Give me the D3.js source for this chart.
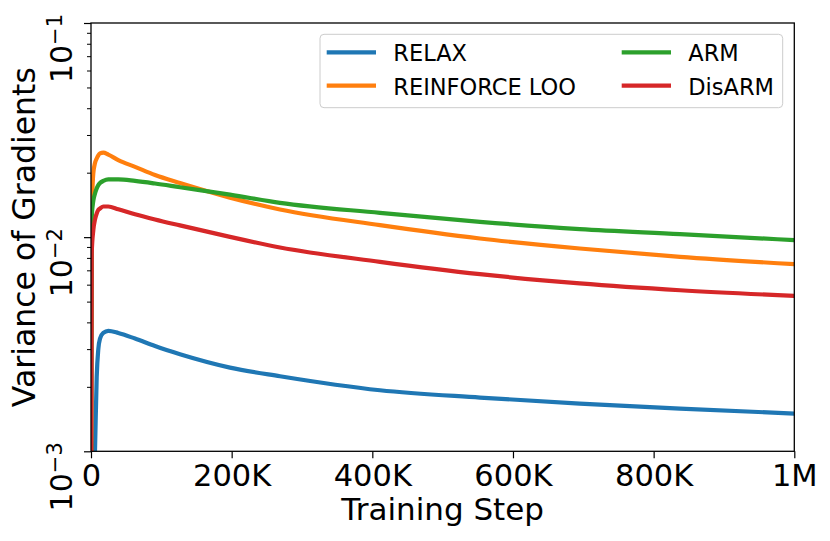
<!DOCTYPE html>
<html><head><meta charset="utf-8">
<script src="https://cdn.jsdelivr.net/npm/d3@7"></script>
<style>body{margin:0;background:#fff} text{font-family:"DejaVu Sans",sans-serif;fill:#000}</style>
</head><body><svg id="c" width="830" height="541"></svg>
<script>
// ---- data ----
const steps  = [0, 1000, 3300, 5700, 8100, 10400, 12800, 17500, 24600, 38800, 62600, 91000, 126500, 197600, 268700, 410900, 553000, 695000, 837500, 1000000];
const relax  = [0.0001, 0.0002, 0.0005, 0.00101, 0.00222, 0.0030, 0.00336, 0.00357, 0.00365, 0.00357, 0.00336, 0.0031, 0.00284, 0.00246, 0.002242, 0.001928, 0.001782, 0.00167, 0.001583, 0.0015];
const reinforceLoo = [0.0003, 0.0125, 0.0199, 0.0222, 0.0233, 0.0241, 0.0246, 0.0248, 0.0243, 0.0229, 0.0213, 0.0195, 0.0179, 0.0153, 0.01347, 0.01138, 0.00986, 0.00885, 0.00809, 0.00748];
const arm    = [0.0003, 0.0124, 0.0148, 0.0160, 0.0169, 0.0175, 0.0179, 0.0183, 0.0186, 0.0186, 0.0183, 0.0178, 0.0171, 0.0158, 0.01446, 0.01299, 0.01179, 0.0109, 0.01033, 0.00968];
const disarm = [0.0003, 0.0084, 0.0108, 0.0121, 0.0129, 0.0134, 0.0136, 0.0139, 0.0139, 0.0135, 0.0128, 0.0121, 0.01135, 0.01003, 0.00895, 0.00767, 0.00672, 0.00608, 0.00565, 0.00532];
const seriesNames = ["RELAX", "REINFORCE LOO", "ARM", "DisARM"];
const seriesColors = ["#1f77b4", "#ff7f0e", "#2ca02c", "#d62728"];
const xTicks = [0, 200000, 400000, 600000, 800000, 1000000];
const xTickLabels = ["0", "200K", "400K", "600K", "800K", "1M"];
const yTicks = [1e-3, 1e-2, 1e-1];
const yTickExps = ["−3", "−2", "−1"];
const xLabel = "Training Step";
const yLabel = "Variance of Gradients";

// ---- layout ----
const L = 91, R = 794.3, T = 23, B = 451.3;
const svg = d3.select("#c");
const x = d3.scaleLinear().domain([0, 1e6]).range([L, R]);
const y = d3.scaleLog().domain([1e-3, 1e-1]).range([B, T]);

svg.append("defs").append("clipPath").attr("id", "clip")
  .append("rect").attr("x", L).attr("y", T).attr("width", R - L).attr("height", B - T);

const seriesVals = [relax, reinforceLoo, arm, disarm];
const line = d3.line().x((d, i) => x(steps[i])).y(d => y(d)).curve(d3.curveMonotoneX);
const gl = svg.append("g").attr("clip-path", "url(#clip)");
seriesVals.forEach((vals, k) => {
  gl.append("path").datum(vals).attr("d", line)
    .attr("fill", "none").attr("stroke", seriesColors[k])
    .attr("stroke-width", 4.2).attr("stroke-linejoin", "round").attr("stroke-linecap", "butt");
});

// axes
const xAxis = d3.axisBottom(x).tickValues(xTicks).tickFormat((d, i) => xTickLabels[i]).tickSize(7).tickPadding(0);
const gx = svg.append("g").attr("transform", `translate(0,${B})`).call(xAxis);
gx.select(".domain").remove();
gx.selectAll(".tick line").attr("stroke", "#000").attr("stroke-width", 1.2);
gx.selectAll(".tick text").attr("font-size", "30.5px").attr("y", 35.2).attr("dy", 0)
  .attr("font-family", "DejaVu Sans").attr("fill", "#000");

const minor = [];
[1e-3, 1e-2].forEach(b => { for (let m = 2; m <= 9; m++) minor.push(b * m); });
const yMinor = d3.axisLeft(y).tickValues(minor).tickFormat("").tickSize(4);
const gym = svg.append("g").attr("transform", `translate(${L},0)`).call(yMinor);
gym.select(".domain").remove();
gym.selectAll(".tick line").attr("stroke", "#000").attr("stroke-width", 1);

const yAxis = d3.axisLeft(y).tickValues(yTicks).tickFormat("").tickSize(7);
const gy = svg.append("g").attr("transform", `translate(${L},0)`).call(yAxis);
gy.select(".domain").remove();
gy.selectAll(".tick line").attr("stroke", "#000").attr("stroke-width", 1.2);

// rotated y tick labels
yTicks.forEach((t, i) => {
  const tx = svg.append("text")
    .attr("transform", `translate(71.7,${y(t) + 25.5}) rotate(-90)`)
    .attr("text-anchor", "middle").attr("font-size", "30px");
  tx.append("tspan").text("10");
  tx.append("tspan").attr("font-size", "21px").attr("dy", -10).text(yTickExps[i]);
});

// frame
svg.append("rect").attr("x", L).attr("y", T).attr("width", R - L).attr("height", B - T)
  .attr("fill", "none").attr("stroke", "#000").attr("stroke-width", 1.3);

// axis labels
svg.append("text").attr("x", (L + R) / 2).attr("y", 520).attr("text-anchor", "middle")
  .attr("font-size", "31px").text(xLabel);
svg.append("text").attr("transform", `translate(35,${(T + B) / 2}) rotate(-90)`)
  .attr("text-anchor", "middle").attr("font-size", "31.5px").text(yLabel);

// legend
const lg = svg.append("g");
lg.append("rect").attr("x", 320).attr("y", 34.3).attr("width", 462.7).attr("height", 73.4)
  .attr("rx", 4).attr("fill", "#fff").attr("fill-opacity", 0.8).attr("stroke", "#cccccc").attr("stroke-width", 1);
const legPos = [[326.7, 52.3], [326.7, 85.7], [621.7, 52.3], [621.7, 85.7]];
seriesNames.forEach((n, k) => {
  const [lx, ly] = legPos[k];
  lg.append("line").attr("x1", lx).attr("x2", lx + 49.3).attr("y1", ly).attr("y2", ly)
    .attr("stroke", seriesColors[k]).attr("stroke-width", 4.2);
  lg.append("text").attr("x", lx + 66.6).attr("y", ly + 8.8).attr("font-size", "22.5px").text(n);
});
</script></body></html>
